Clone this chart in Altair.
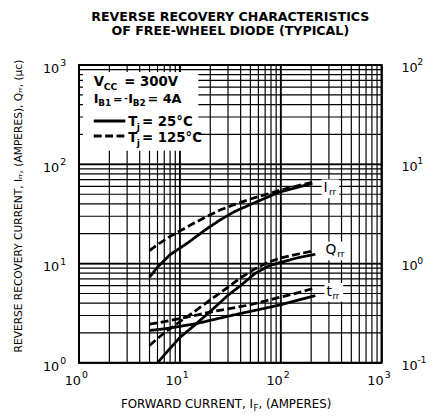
import altair as alt
import pandas as pd

FONT = "DejaVu Sans"

# ---------------- data ----------------
# Irr (A), left scale
irr_x = [5, 6, 8, 12, 18, 25, 35, 53, 75, 97, 140, 205]
irr_25 = [7.3, 9.2, 12.3, 16.2, 22, 27.5, 33.5, 40.4, 47, 52.6, 58, 64]
irr_125 = [13.5, 15.5, 18.8, 23.6, 29.5, 34.6, 39.5, 45.5, 50.5, 54.7, 60, 66]

# Qrr (uC), left scale
qrr_x_25 = [6, 8, 10, 13, 17, 22, 30, 40, 55, 75, 100, 150, 220]
qrr_25 = [1.0, 1.4, 1.8, 2.25, 2.85, 3.6, 4.8, 6.0, 7.9, 9.4, 10.3, 11.5, 12.4]
qrr_x_125 = [5, 7, 10, 14, 20, 28, 40, 55, 75, 100, 150, 215]
qrr_125 = [1.5, 2.0, 2.6, 3.3, 4.3, 5.5, 7.2, 8.8, 10.3, 11.4, 12.5, 13.5]

# trr (us), right scale
trr_x = [5, 7, 10, 15, 20, 30, 50, 70, 100, 150, 220]
trr_25 = [0.212, 0.22, 0.233, 0.25, 0.268, 0.295, 0.33, 0.355, 0.385, 0.43, 0.475]
trr_125 = [0.245, 0.26, 0.28, 0.305, 0.325, 0.35, 0.385, 0.42, 0.46, 0.51, 0.57]

# grid / ticks
grid_vals = [1, 2, 3, 4, 5, 6, 7, 8, 9,
             10, 20, 30, 40, 50, 60, 70, 80, 90,
             100, 200, 300, 400, 500, 600, 700, 800, 900, 1000]
major_vals = [1, 10, 100, 1000]
x_ticks = [1, 10, 100, 1000]
x_exps = ["0", "1", "2", "3"]
yl_ticks = [1, 10, 100, 1000]
yl_exps = ["0", "1", "2", "3"]
yr_ticks = [0.1, 1, 10, 100]
yr_exps = ["-1", "0", "1", "2"]

# ---------------- scales ----------------
xs = alt.Scale(type="log", domain=[1, 1000], nice=False)
yl = alt.Scale(type="log", domain=[1, 1000], nice=False)
yr = alt.Scale(type="log", domain=[0.1, 100], nice=False)

dash_scale = alt.Scale(domain=["25", "125"], range=[[1, 0], [8, 3.5]])


def series_df(name, xs_, ys_, temp):
    return pd.DataFrame({"x": xs_, "y": ys_, "series": name, "temp": temp})


left_df = pd.concat([
    series_df("irr25", irr_x, irr_25, "25"),
    series_df("irr125", irr_x, irr_125, "125"),
    series_df("qrr25", qrr_x_25, qrr_25, "25"),
    series_df("qrr125", qrr_x_125, qrr_125, "125"),
])
right_df = pd.concat([
    series_df("trr25", trr_x, trr_25, "25"),
    series_df("trr125", trr_x, trr_125, "125"),
])


def txt(s, x, y, size, bold=False, align="left", angle=0, baseline="alphabetic"):
    kw = dict(text=s, fontSize=size, font=FONT, color="black", align=align,
              baseline=baseline, fontWeight="bold" if bold else "normal")
    if angle:
        kw["angle"] = angle
    return alt.Chart(alt.Data(values=[{}])).mark_text(**kw).encode(
        x=alt.value(x), y=alt.value(y))


def white_box(x1, x2, y1, y2):
    return alt.Chart(alt.Data(values=[{}])).mark_rect(color="white").encode(
        x=alt.value(x1), x2=alt.value(x2), y=alt.value(y1), y2=alt.value(y2))


# ---------------- grid ----------------
grid_df = pd.DataFrame({"v": grid_vals})
major_df = pd.DataFrame({"v": major_vals})
vgrid = alt.Chart(grid_df).mark_rule(color="black", strokeWidth=1.2).encode(
    x=alt.X("v:Q", scale=xs, axis=None))
hgrid = alt.Chart(grid_df).mark_rule(color="black", strokeWidth=1.2).encode(
    y=alt.Y("v:Q", scale=yl, axis=None))
vmajor = alt.Chart(major_df).mark_rule(color="black", strokeWidth=1.8).encode(
    x=alt.X("v:Q", scale=xs, axis=None))
hmajor = alt.Chart(major_df).mark_rule(color="black", strokeWidth=1.8).encode(
    y=alt.Y("v:Q", scale=yl, axis=None))

# white knock-outs behind legend and curve labels
boxes = [
    white_box(4, 121, 7, 87),
    white_box(246, 264, 116, 135),
    white_box(248, 274, 179, 198),
    white_box(249, 268, 221, 240),
]

# ---------------- curves ----------------
left_lines = alt.Chart(left_df).mark_line(color="black", strokeWidth=2.8).encode(
    x=alt.X("x:Q", scale=xs, axis=None),
    y=alt.Y("y:Q", scale=yl, axis=None),
    detail="series:N",
    strokeDash=alt.StrokeDash("temp:N", scale=dash_scale, legend=None),
)
right_lines = alt.Chart(right_df).mark_line(color="black", strokeWidth=2.8).encode(
    x=alt.X("x:Q", scale=xs, axis=None),
    y=alt.Y("y:Q", scale=yr, axis=None),
    detail="series:N",
    strokeDash=alt.StrokeDash("temp:N", scale=dash_scale, legend=None),
)

# ---------------- tick labels ----------------
xt_df = pd.DataFrame({"v": x_ticks, "e": x_exps})
xt_base = alt.Chart(xt_df).mark_text(text="10", font=FONT, fontSize=13, align="right",
                                     baseline="middle", dx=2, color="black").encode(
    x=alt.X("v:Q", scale=xs, axis=None), y=alt.value(320))
xt_exp = alt.Chart(xt_df).mark_text(font=FONT, fontSize=9.5, align="left",
                                    baseline="middle", dx=3, color="black").encode(
    x=alt.X("v:Q", scale=xs, axis=None), y=alt.value(314), text="e:N")

yl_df = pd.DataFrame({"v": yl_ticks, "e": yl_exps})
yl_base = alt.Chart(yl_df).mark_text(text="10", font=FONT, fontSize=13, align="right",
                                     baseline="middle", dy=4, color="black").encode(
    x=alt.value(-20), y=alt.Y("v:Q", scale=yl, axis=None))
yl_exp = alt.Chart(yl_df).mark_text(font=FONT, fontSize=9.5, align="left",
                                    baseline="middle", dy=-2, color="black").encode(
    x=alt.value(-19), y=alt.Y("v:Q", scale=yl, axis=None), text="e:N")

yr_df = pd.DataFrame({"v": yr_ticks, "e": yr_exps})
yr_base = alt.Chart(yr_df).mark_text(text="10", font=FONT, fontSize=13, align="left",
                                     baseline="middle", dy=3, color="black").encode(
    x=alt.value(327), y=alt.Y("v:Q", scale=yr, axis=None))
yr_exp = alt.Chart(yr_df).mark_text(font=FONT, fontSize=9.5, align="left",
                                    baseline="middle", dy=-3, color="black").encode(
    x=alt.value(343), y=alt.Y("v:Q", scale=yr, axis=None), text="e:N")

# ---------------- annotations ----------------
annots = [
    # title
    txt("REVERSE RECOVERY CHARACTERISTICS", 153.5, -45, 12.8, bold=True, align="center"),
    txt("OF FREE-WHEEL DIODE (TYPICAL)", 153.5, -31, 12.8, bold=True, align="center"),
    # x title
    txt("FORWARD CURRENT, I", 176.5, 348, 12, align="right"),
    txt("F", 177, 350.5, 8.5),
    txt(", (AMPERES)", 182, 348, 12),
    # y title
    txt("REVERSE RECOVERY CURRENT, Iᵣᵣ, (AMPERES), Qᵣᵣ, (μc)", -61, 143, 10.8,
        align="center", angle=270, baseline="middle"),
    # legend
    txt("V", 15, 21.7, 13.5, bold=True),
    txt("CC", 25, 25, 9.5, bold=True),
    txt("= 300V", 46, 21.7, 13.5, bold=True),
    txt("I", 15, 38.3, 13, bold=True),
    txt("B1", 19.5, 42, 9, bold=True),
    txt("=", 34.5, 38.3, 11.5, bold=True),
    txt("-", 46, 36.5, 8.5, bold=True),
    txt("I", 50, 38.3, 13, bold=True),
    txt("B2", 54.5, 42, 9, bold=True),
    txt("= 4A", 69.5, 38.3, 13, bold=True),
    txt("T", 50, 61.7, 13.5, bold=True),
    txt("j", 58.5, 65.5, 9.5, bold=True),
    txt("= 25°C", 64, 61.7, 13.5, bold=True),
    txt("T", 50, 78, 13.5, bold=True),
    txt("j", 58.5, 82, 9.5, bold=True),
    txt("= 125°C", 64, 78, 13.5, bold=True),
    # curve labels
    txt("I", 248, 129, 14),
    txt("rr", 253.5, 132, 9),
    txt("Q", 250, 192, 14),
    txt("rr", 262, 195, 9),
    txt("t", 251, 234, 14),
    txt("rr", 257, 237, 9),
]

leg_solid = alt.Chart(alt.Data(values=[{}])).mark_rule(color="black", strokeWidth=3).encode(
    x=alt.value(15), x2=alt.value(47), y=alt.value(56.7))
leg_dash = alt.Chart(alt.Data(values=[{}])).mark_rule(color="black", strokeWidth=3,
                                                      strokeDash=[8, 3.5]).encode(
    x=alt.value(15), x2=alt.value(47), y=alt.value(72))

left_group = alt.layer(vgrid, hgrid, vmajor, hmajor, *boxes, left_lines,
                       xt_base, xt_exp, yl_base, yl_exp, leg_solid, leg_dash, *annots)
right_group = alt.layer(right_lines, yr_base, yr_exp)

chart = alt.layer(left_group, right_group).resolve_scale(
    y="independent", strokeDash="shared"
).properties(
    width=307, height=302,
    autosize=alt.AutoSizeParams(type="none"),
    padding={"left": 72, "top": 55, "right": 48, "bottom": 50},
    background="white",
).configure_view(stroke="black", strokeWidth=2)

chart.save("out.html", embed_options={"renderer": "svg", "actions": False})
